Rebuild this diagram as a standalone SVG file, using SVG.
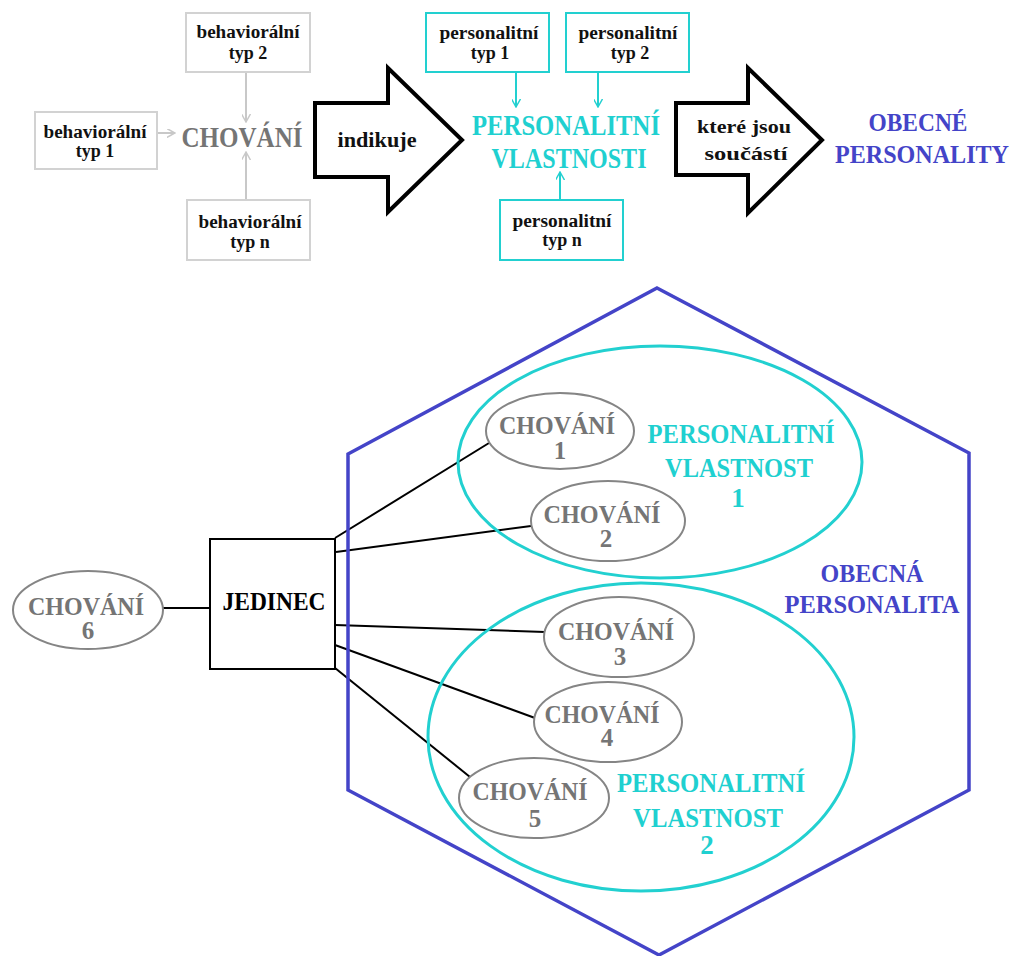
<svg xmlns="http://www.w3.org/2000/svg" width="1019" height="956" viewBox="0 0 1019 956">
<defs>
<style>
text{font-family:"Liberation Serif","DejaVu Serif",serif;font-weight:bold;text-anchor:middle}
.sm{font-size:18px;fill:#111}
.gbox{fill:#fff;stroke:#d2d2d2;stroke-width:2}
.cbox{fill:#fff;stroke:#22d0d0;stroke-width:2}
.garr{stroke:#c8c8c8;stroke-width:2;fill:none}
.carr{stroke:#22d0d0;stroke-width:2;fill:none}
.big{fill:#fff;stroke:#000;stroke-width:4;stroke-linejoin:miter}
.cy{fill:#1fd0d0}
.bl{fill:#4444c8}
.gr{fill:#757575}
.gel{fill:#fff;stroke:#858585;stroke-width:2}
.cel{fill:none;stroke:#22d0d0;stroke-width:3}
.ln{stroke:#000;stroke-width:2}
</style>
<marker id="gh" viewBox="0 0 10 10" refX="9" refY="5" markerWidth="9" markerHeight="9" markerUnits="userSpaceOnUse" orient="auto"><path d="M0,0 L9,5 L0,10" fill="none" stroke="#c8c8c8" stroke-width="1.6"/></marker>
<marker id="ch" viewBox="0 0 10 10" refX="9" refY="5" markerWidth="9" markerHeight="9" markerUnits="userSpaceOnUse" orient="auto"><path d="M0,0 L9,5 L0,10" fill="none" stroke="#22d0d0" stroke-width="1.6"/></marker>
</defs>
<rect width="1019" height="956" fill="#fff"/>

<g id="connectors">
<line class="garr" x1="246" y1="72" x2="246" y2="122" marker-end="url(#gh)"/>
<line class="garr" x1="157" y1="133" x2="175" y2="133" marker-end="url(#gh)"/>
<line class="garr" x1="246" y1="200" x2="246" y2="152" marker-end="url(#gh)"/>
<line class="carr" x1="516" y1="72" x2="516" y2="107" marker-end="url(#ch)"/>
<line class="carr" x1="598" y1="72" x2="598" y2="107" marker-end="url(#ch)"/>
<line class="carr" x1="560" y1="200" x2="560" y2="172" marker-end="url(#ch)"/>
<line class="ln" x1="163" y1="608" x2="210" y2="608"/>
<line class="ln" x1="335" y1="538" x2="489" y2="443"/>
<line class="ln" x1="336" y1="552" x2="531" y2="526"/>
<line class="ln" x1="335" y1="625" x2="545" y2="632"/>
<line class="ln" x1="335" y1="645" x2="535" y2="718"/>
<line class="ln" x1="335" y1="668" x2="470" y2="777"/>
</g>

<g id="beh2"><rect class="gbox" x="186" y="13" width="124" height="59"/>
<text class="sm" x="248" y="38" textLength="103" lengthAdjust="spacingAndGlyphs">behaviorální</text><text class="sm" x="248" y="59">typ 2</text></g>
<g id="beh1"><rect class="gbox" x="35" y="112" width="122" height="57"/>
<text class="sm" x="95" y="138" textLength="103" lengthAdjust="spacingAndGlyphs">behaviorální</text><text class="sm" x="95" y="157">typ 1</text></g>
<g id="behn"><rect class="gbox" x="187" y="200" width="123" height="60"/>
<text class="sm" x="250" y="228" textLength="103" lengthAdjust="spacingAndGlyphs">behaviorální</text><text class="sm" x="250" y="248">typ n</text></g>
<g id="chovani-top"><text class="gr" x="242" y="147" font-size="29" textLength="121" lengthAdjust="spacingAndGlyphs">CHOVÁNÍ</text></g>

<g id="arrow1"><path class="big" d="M315,103 L388,103 L388,68 L462,140 L388,212 L388,177 L315,177 Z"/>
<text x="377" y="147" font-size="21" fill="#111" textLength="79" lengthAdjust="spacingAndGlyphs">indikuje</text></g>

<g id="pers1"><rect class="cbox" x="426" y="13" width="123" height="59"/>
<text class="sm" x="489" y="39" textLength="99" lengthAdjust="spacingAndGlyphs">personalitní</text><text class="sm" x="490" y="59">typ  1</text></g>
<g id="pers2"><rect class="cbox" x="566" y="13" width="123" height="59"/>
<text class="sm" x="628" y="39" textLength="99" lengthAdjust="spacingAndGlyphs">personalitní</text><text class="sm" x="630" y="59">typ  2</text></g>
<g id="persn"><rect class="cbox" x="500" y="200" width="123" height="60"/>
<text class="sm" x="562" y="227" textLength="99" lengthAdjust="spacingAndGlyphs">personalitní</text><text class="sm" x="562" y="246">typ  n</text></g>
<g id="pers-vlast"><text class="cy" x="566" y="135" font-size="29" textLength="188" lengthAdjust="spacingAndGlyphs">PERSONALITNÍ</text>
<text class="cy" x="569" y="168" font-size="29" textLength="155" lengthAdjust="spacingAndGlyphs">VLASTNOSTI</text></g>

<g id="arrow2"><path class="big" d="M676,103 L748,103 L748,68 L822,140 L748,213 L748,175 L676,175 Z"/>
<text x="744" y="133" font-size="19" fill="#111" textLength="94" lengthAdjust="spacingAndGlyphs">které jsou</text>
<text x="746" y="160" font-size="19" fill="#111" textLength="83" lengthAdjust="spacingAndGlyphs">součástí</text></g>

<g id="obecne"><text class="bl" x="918" y="131" font-size="26" textLength="99" lengthAdjust="spacingAndGlyphs">OBECNÉ</text>
<text class="bl" x="922" y="163" font-size="26" textLength="174" lengthAdjust="spacingAndGlyphs">PERSONALITY</text></g>

<g id="hexagon"><polygon points="657,288 969,453 969,790 659,955 348,790 348,454" fill="none" stroke="#4444c8" stroke-width="3.5"/>
<text class="bl" x="872" y="582" font-size="25" textLength="103" lengthAdjust="spacingAndGlyphs">OBECNÁ</text>
<text class="bl" x="872" y="613" font-size="25" textLength="175" lengthAdjust="spacingAndGlyphs">PERSONALITA</text></g>

<g id="vlastnost1"><ellipse class="cel" cx="660" cy="462" rx="202" ry="116"/>
<text class="cy" x="741" y="443" font-size="27" textLength="187" lengthAdjust="spacingAndGlyphs">PERSONALITNÍ</text>
<text class="cy" x="739" y="477" font-size="27" textLength="148" lengthAdjust="spacingAndGlyphs">VLASTNOST</text>
<text class="cy" x="738" y="507" font-size="27">1</text></g>

<g id="vlastnost2"><ellipse class="cel" cx="641" cy="737" rx="213" ry="154"/>
<text class="cy" x="711" y="792" font-size="27" textLength="188" lengthAdjust="spacingAndGlyphs">PERSONALITNÍ</text>
<text class="cy" x="708" y="827" font-size="27" textLength="150" lengthAdjust="spacingAndGlyphs">VLASTNOST</text>
<text class="cy" x="707" y="854" font-size="27">2</text></g>

<g id="chovani1"><ellipse class="gel" cx="560" cy="431" rx="74" ry="38"/>
<text class="gr" x="557" y="434" font-size="26" textLength="116" lengthAdjust="spacingAndGlyphs">CHOVÁNÍ</text><text class="gr" x="560" y="459" font-size="25">1</text></g>
<g id="chovani2"><ellipse class="gel" cx="608" cy="521" rx="77" ry="40"/>
<text class="gr" x="602" y="523" font-size="26" textLength="117" lengthAdjust="spacingAndGlyphs">CHOVÁNÍ</text><text class="gr" x="606" y="547" font-size="25">2</text></g>
<g id="chovani3"><ellipse class="gel" cx="619" cy="637" rx="75" ry="40"/>
<text class="gr" x="616" y="640" font-size="26" textLength="116" lengthAdjust="spacingAndGlyphs">CHOVÁNÍ</text><text class="gr" x="620" y="665" font-size="25">3</text></g>
<g id="chovani4"><ellipse class="gel" cx="608" cy="722" rx="74" ry="40"/>
<text class="gr" x="602" y="723" font-size="26" textLength="115" lengthAdjust="spacingAndGlyphs">CHOVÁNÍ</text><text class="gr" x="607" y="746" font-size="25">4</text></g>
<g id="chovani5"><ellipse class="gel" cx="534" cy="798" rx="75" ry="40"/>
<text class="gr" x="530" y="800" font-size="26" textLength="115" lengthAdjust="spacingAndGlyphs">CHOVÁNÍ</text><text class="gr" x="535" y="827" font-size="25">5</text></g>
<g id="chovani6"><ellipse class="gel" cx="88" cy="610" rx="75" ry="39"/>
<text class="gr" x="86" y="615" font-size="26" textLength="116" lengthAdjust="spacingAndGlyphs">CHOVÁNÍ</text><text class="gr" x="88" y="639" font-size="25">6</text></g>

<g id="jedinec"><rect x="210" y="539" width="125" height="130" fill="#fff" stroke="#000" stroke-width="2"/>
<text x="274" y="610" font-size="26" fill="#000" textLength="103" lengthAdjust="spacingAndGlyphs">JEDINEC</text></g>
</svg>
